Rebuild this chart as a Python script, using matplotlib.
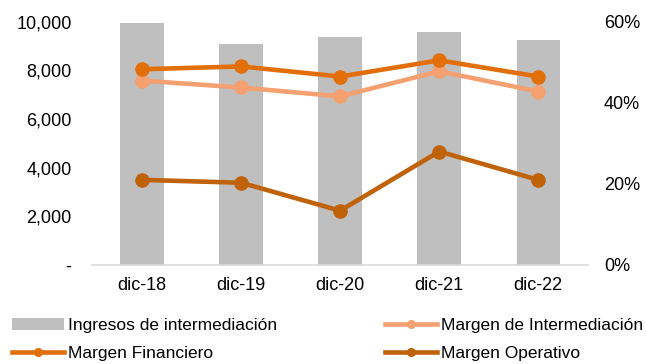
import numpy as np
import matplotlib.pyplot as plt
from matplotlib.ticker import FuncFormatter

plt.rcParams['font.family'] = ['Liberation Sans', 'DejaVu Sans']

# data
Periodos = ['dic-18', 'dic-19', 'dic-20', 'dic-21', 'dic-22']
Ingresos = [9950, 9070, 9360, 9600, 9240]
Margen_Intermediacion = [45.5, 43.8, 41.6, 47.8, 42.8]
Margen_Financiero = [48.3, 49.0, 46.5, 50.5, 46.5]
Margen_Operativo = [21.0, 20.3, 13.4, 28.0, 21.0]

Gris = '#BFBFBF'
Color_Inter = '#F4A070'
Color_Fin = '#E36F0A'
Color_Op = '#C0620A'

def main():
    Fig = plt.figure(figsize=(6.46, 3.64), dpi=100)
    ax = Fig.add_axes([0.143, 0.272, 0.767, 0.668])
    ax2 = ax.twinx()

    x = np.arange(len(Periodos))
    Barras = ax.bar(x, Ingresos, width=0.44, color=Gris, zorder=1)
    ax.set_ylim(0, 10000)
    ax.set_yticks(np.arange(0, 10001, 2000))
    ax.yaxis.set_major_formatter(FuncFormatter(lambda v, p: '-' if v == 0 else f'{v:,.0f}'))
    ax.set_xlim(-0.5, len(Periodos) - 0.5)
    ax.set_xticks(x)
    ax.set_xticklabels(Periodos)

    # lines on the percentage axis
    L_Inter, = ax2.plot(x, Margen_Intermediacion, color=Color_Inter, lw=3.3,
                        marker='o', ms=9.5, label='Margen de Intermediación')
    L_Fin, = ax2.plot(x, Margen_Financiero, color=Color_Fin, lw=3.3,
                      marker='o', ms=9.5, label='Margen Financiero')
    L_Op, = ax2.plot(x, Margen_Operativo, color=Color_Op, lw=3.3,
                     marker='o', ms=9.5, label='Margen Operativo')
    ax2.set_ylim(0, 60)
    ax2.set_yticks([0, 20, 40, 60])
    ax2.yaxis.set_major_formatter(FuncFormatter(lambda v, p: f'{v:.0f}%'))

    # cosmetics
    for a in (ax, ax2):
        for s in a.spines.values():
            s.set_visible(False)
        a.tick_params(length=0, labelsize=13, colors='#000000')
    ax.spines['bottom'].set_visible(True)
    ax.spines['bottom'].set_color('#D9D9D9')
    ax.spines['bottom'].set_linewidth(1.2)
    ax.tick_params(axis='y', pad=15)
    ax.tick_params(axis='x', pad=9)
    ax2.tick_params(axis='y', pad=11.5)

    Handles = [Barras, L_Fin, L_Inter, L_Op]
    Labels = ['Ingresos de intermediación', 'Margen Financiero',
              'Margen de Intermediación', 'Margen Operativo']
    Fig.legend(Handles, Labels, ncol=2, loc='upper left',
               bbox_to_anchor=(0.019, 0.127), frameon=False, fontsize=12.5,
               handlelength=3.0, handletextpad=0.22, columnspacing=6.2,
               labelspacing=0.72, borderaxespad=0, borderpad=0)
    for h in Fig.legends[0].get_lines():
        h.set_markersize(5.5)

    Fig.savefig('out.png', dpi=100)

main()
